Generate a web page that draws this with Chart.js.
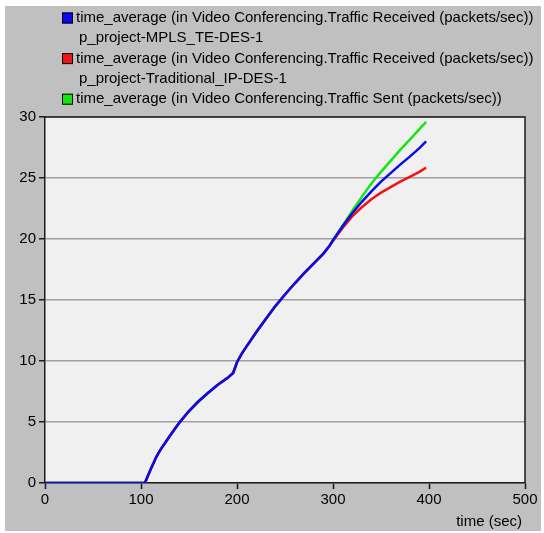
<!DOCTYPE html>
<html>
<head>
<meta charset="utf-8">
<script src="https://cdn.jsdelivr.net/npm/chart.js@4.4.1/dist/chart.umd.min.js"></script>
<style>
html,body{margin:0;padding:0;background:#fff;}
#wrap{width:544px;height:533px;}
</style>
</head>
<body>
<div id="wrap"><canvas id="c" width="544" height="533"></canvas></div>
<script>
// ---- data ----
const commonTime  = [0, 104, 110, 116, 120, 127, 130, 140, 150, 160, 170, 180, 190, 196, 200, 205, 210, 220, 230, 240, 250, 260, 270, 280, 290, 296];
const commonValue = [0, 0, 1.1, 2.15, 2.7, 3.5, 3.85, 4.95, 5.9, 6.7, 7.4, 8.05, 8.6, 9.02, 9.9, 10.6, 11.2, 12.35, 13.45, 14.5, 15.45, 16.35, 17.2, 18.0, 18.8, 19.4];
const tailTime    = [300, 310, 320, 330, 340, 350, 360, 370, 380, 390, 397];
const mplsTail    = [19.9, 21.05, 22.1, 23.05, 23.9, 24.7, 25.4, 26.1, 26.75, 27.45, 28.0];
const ipTail      = [19.85, 20.9, 21.85, 22.6, 23.25, 23.8, 24.25, 24.7, 25.1, 25.5, 25.85];
const sentTail    = [19.9, 21.1, 22.3, 23.45, 24.55, 25.5, 26.4, 27.3, 28.15, 29.0, 29.6];
const xTicks = [0, 100, 200, 300, 400, 500];
const yTicks = [0, 5, 10, 15, 20, 25, 30];
const legendLines = [
  ["time_average (in Video Conferencing.Traffic Received (packets/sec))", "p_project-MPLS_TE-DES-1"],
  ["time_average (in Video Conferencing.Traffic Received (packets/sec))", "p_project-Traditional_IP-DES-1"],
  ["time_average (in Video Conferencing.Traffic Sent (packets/sec))"]
];
const seriesColors = ["#0a0aee", "#f01414", "#14e614"];
const xTitle = "time (sec)";

function pts(tail){
  const a = commonTime.map((t,i)=>({x:t, y:commonValue[i]}));
  tailTime.forEach((t,i)=>a.push({x:t, y:tail[i]}));
  return a;
}

const FONT = "Liberation Sans, Arial, sans-serif";

const bgPlugin = {
  id:'bg',
  beforeDraw(chart){
    const ctx = chart.ctx, a = chart.chartArea;
    ctx.save();
    ctx.fillStyle = '#ffffff';
    ctx.fillRect(0,0,chart.width,chart.height);
    ctx.fillStyle = '#c0c0c0';
    ctx.fillRect(5,6,536,525);
    ctx.fillStyle = '#f0f0f0';
    ctx.fillRect(a.left,a.top,a.right-a.left,a.bottom-a.top);
    ctx.restore();
  },
  afterDraw(chart){
    const ctx = chart.ctx, a = chart.chartArea;
    ctx.save();
    ctx.strokeStyle = '#1a1a1a';
    ctx.lineWidth = 1.5;
    ctx.beginPath();
    ctx.moveTo(a.left, a.top); ctx.lineTo(a.right, a.top); ctx.lineTo(a.right, a.bottom);
    ctx.stroke();
    // legend
    ctx.font = "15px " + FONT;
    ctx.textBaseline = 'middle';
    ctx.fillStyle = '#000';
    let y = 18;
    legendLines.forEach((lines, i)=>{
      ctx.fillStyle = seriesColors[i];
      ctx.fillRect(62, y-5.5, 11, 11);
      ctx.strokeStyle = '#000'; ctx.lineWidth = 1;
      ctx.strokeRect(62.5, y-5, 10, 10);
      ctx.fillStyle = '#000';
      lines.forEach((txt, j)=>{
        ctx.fillText(txt, j===0 ? 76 : 79, y);
        y += 20.3;
      });
    });
    // x title
    ctx.textAlign = 'right';
    ctx.fillText(xTitle, 522, 522);
    ctx.restore();
  }
};

new Chart(document.getElementById('c'), {
  type:'scatter',
  data:{
    datasets:[
      {data:pts(mplsTail), borderColor:seriesColors[0]},
      {data:pts(ipTail), borderColor:seriesColors[1]},
      {data:pts(sentTail), borderColor:seriesColors[2]}
    ].map(d=>Object.assign(d,{showLine:true, pointRadius:0, borderWidth:2.5, tension:0, fill:false}))
  },
  options:{
    responsive:false,
    animation:false,
    layout:{padding:{left:0, top:117, right:19, bottom:0}},
    plugins:{legend:{display:false}, tooltip:{enabled:false}},
    scales:{
      x:{
        type:'linear', min:0, max:500,
        afterBuildTicks(s){ s.ticks = xTicks.map(v=>({value:v})); },
        afterFit(s){ s.height = 50; },
        grid:{drawOnChartArea:false, drawTicks:true, tickLength:6, tickColor:'#1a1a1a', tickWidth:1.5},
        border:{display:true, color:'#1a1a1a', width:1.5},
        ticks:{color:'#000', font:{family:FONT, size:15}, padding:2, maxRotation:0, autoSkip:false}
      },
      y:{
        type:'linear', min:0, max:30,
        afterBuildTicks(s){ s.ticks = yTicks.map(v=>({value:v})); },
        afterFit(s){ s.width = 45; },
        grid:{color:'#a0a0a0', lineWidth:1.5, drawTicks:true, tickLength:6, tickColor:'#1a1a1a', tickWidth:1.5},
        border:{display:true, color:'#1a1a1a', width:1.5},
        ticks:{color:'#000', font:{family:FONT, size:15}, padding:3, autoSkip:false}
      }
    }
  },
  plugins:[bgPlugin]
});
</script>
</body>
</html>
